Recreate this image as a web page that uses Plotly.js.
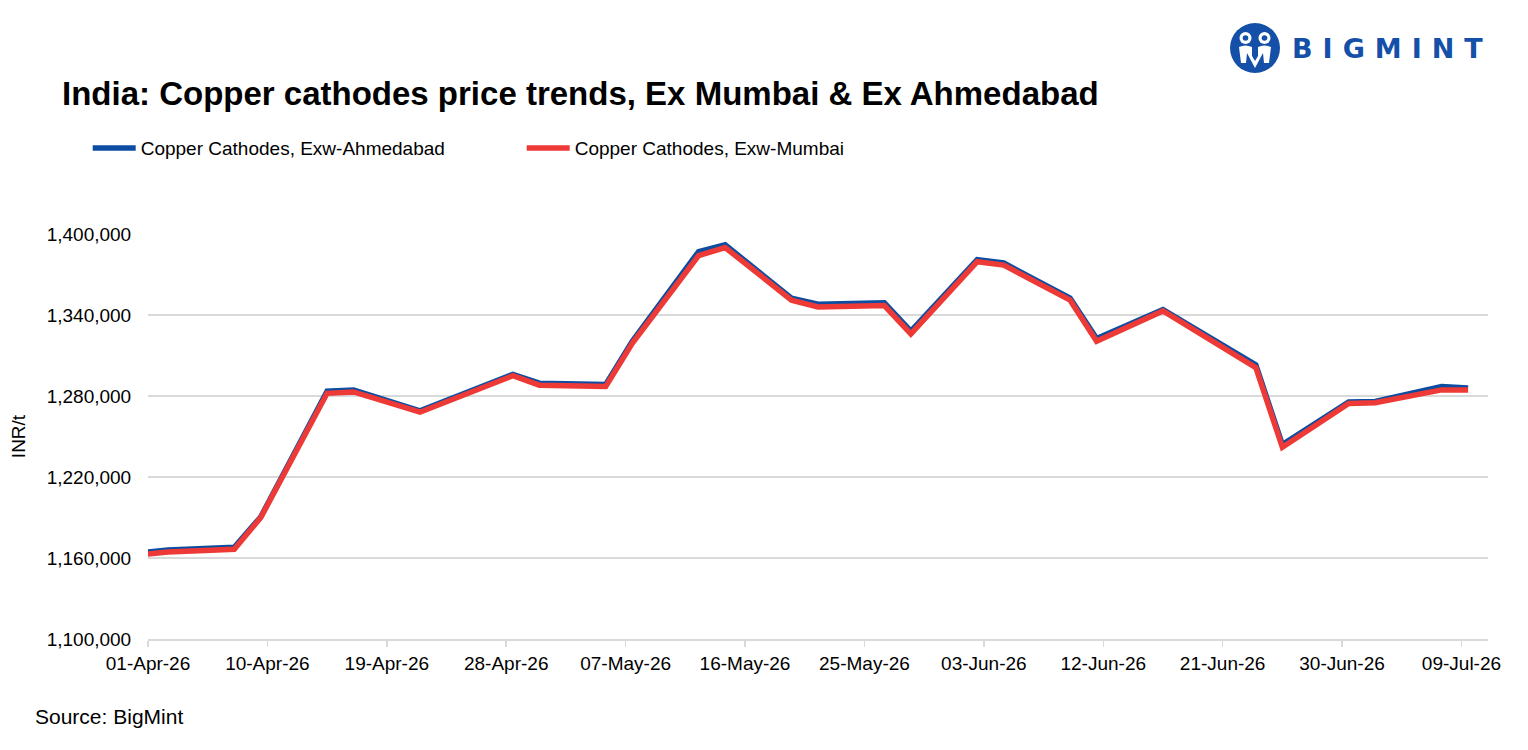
<!DOCTYPE html>
<html>
<head>
<meta charset="utf-8">
<script src="https://cdn.plot.ly/plotly-3.0.1.min.js"></script>
<style>
  html, body { margin: 0; padding: 0; background: #ffffff; }
  #wrap { position: relative; width: 1528px; height: 750px; }
  #chart { width: 1528px; height: 750px; }
  #brand { position: absolute; left: 1230px; top: 23px; height: 50px; display: flex; align-items: center; }
  #brand span { font-family: "DejaVu Sans", sans-serif; font-weight: bold; font-size: 27px;
                letter-spacing: 10px; color: #1450A8; margin-left: 12px; }
</style>
</head>
<body>
<div id="wrap">
  <div id="chart"></div>
  <div id="brand">
    <svg width="50" height="50" viewBox="0 0 50 50">
      <circle cx="25" cy="25" r="25" fill="#1450A8"/>
      <circle cx="15.5" cy="15" r="6" fill="#ffffff"/>
      <circle cx="34.5" cy="15" r="6" fill="#ffffff"/>
      <circle cx="15.5" cy="15" r="2.8" fill="#1450A8"/>
      <circle cx="34.5" cy="15" r="2.8" fill="#1450A8"/>
      <path d="M9 24 Q15.5 21 22 24 L22 33 L25 38 L28 33 L28 24 Q34.5 21 41 24 L39 40 L34 40 L33 30 L25 45 L17 30 L16 40 L11 40 Z" fill="#ffffff"/>
    </svg>
    <span>BIGMINT</span>
  </div>
</div>
<script>
// Price observations (INR per tonne), twice-weekly
const dates = ['2026-03-31','2026-04-02','2026-04-07','2026-04-09','2026-04-14','2026-04-16',
  '2026-04-21','2026-04-28','2026-04-30','2026-05-05','2026-05-07','2026-05-12','2026-05-14',
  '2026-05-19','2026-05-21','2026-05-26','2026-05-28','2026-06-02','2026-06-04','2026-06-09',
  '2026-06-11','2026-06-16','2026-06-23','2026-06-25','2026-06-30','2026-07-02','2026-07-07','2026-07-09'];

const ahmedabad = [1164000, 1166000, 1168000, 1190500, 1283500, 1284500,
  1269000, 1296000, 1289500, 1288500, 1320500, 1387000, 1392000,
  1352500, 1348000, 1349000, 1328000, 1381000, 1378500, 1352500,
  1322500, 1344000, 1303000, 1244000, 1275500, 1276000, 1287000, 1286000];

const mumbai = [1162500, 1164500, 1166500, 1190000, 1282000, 1283000,
  1268000, 1295000, 1288000, 1287000, 1319000, 1384000, 1390000,
  1351000, 1346000, 1347000, 1326000, 1379500, 1377000, 1351000,
  1320500, 1343000, 1301000, 1242000, 1274500, 1275000, 1284500, 1284500];

const seriesNames = ['Copper Cathodes, Exw-Ahmedabad', 'Copper Cathodes, Exw-Mumbai'];

// Axis ticks
const xTickDates = ['2026-04-01','2026-04-10','2026-04-19','2026-04-28','2026-05-07','2026-05-16',
  '2026-05-25','2026-06-03','2026-06-12','2026-06-21','2026-06-30','2026-07-09'];
const xRange = ['2026-04-01', '2026-07-11'];
const yTicks = [1100000, 1160000, 1220000, 1280000, 1340000, 1400000];

const sans = '"Liberation Sans", Arial, sans-serif';
const DAY = 86400000;

const traces = [
  {
    x: dates, y: ahmedabad, name: seriesNames[0], type: 'scatter', mode: 'lines',
    xperiod: DAY, xperiodalignment: 'middle',
    line: { color: '#0C4DA2', width: 5.5 }
  },
  {
    x: dates, y: mumbai, name: seriesNames[1], type: 'scatter', mode: 'lines',
    xperiod: DAY, xperiodalignment: 'middle',
    line: { color: '#EE3A37', width: 5.5 }
  }
];

const layout = {
  width: 1528, height: 750,
  paper_bgcolor: '#ffffff', plot_bgcolor: '#ffffff',
  margin: { l: 148, r: 40, t: 234, b: 111 },
  font: { family: sans, color: '#000000', size: 19 },
  title: {
    text: 'India: Copper cathodes price trends, Ex Mumbai & Ex Ahmedabad',
    font: { family: sans, size: 33, color: '#000000', weight: 'bold' },
    xref: 'container', yref: 'container',
    x: 62 / 1528, xanchor: 'left', y: 1 - 93 / 750, yanchor: 'middle'
  },
  showlegend: true,
  legend: {
    orientation: 'h', x: -0.045, xanchor: 'left', y: 1.212, yanchor: 'middle',
    entrywidth: 376, entrywidthmode: 'pixels', itemwidth: 43,
    font: { family: sans, size: 19, color: '#000000' },
    bgcolor: 'rgba(0,0,0,0)', traceorder: 'normal'
  },
  xaxis: {
    type: 'date', range: xRange, tickvals: xTickDates, tickformat: '%d-%b-%y',
    showgrid: false, zeroline: false,
    showline: true, linecolor: '#d9d9d9', linewidth: 2,
    ticks: 'outside', ticklen: 6, tickcolor: '#d9d9d9', tickwidth: 1.5,
    tickfont: { family: sans, size: 19, color: '#000000' }
  },
  yaxis: {
    range: [1100000, 1400000], tickvals: yTicks, tickformat: ',d',
    showgrid: true, gridcolor: '#d9d9d9', gridwidth: 1.5,
    zeroline: false, showline: false,
    ticks: 'outside', ticklen: 12, tickcolor: 'rgba(0,0,0,0)',
    tickfont: { family: sans, size: 19, color: '#000000' },
    title: { text: 'INR/t', font: { family: sans, size: 19, color: '#000000' }, standoff: 16 }
  },
  annotations: [
    {
      text: 'Source: BigMint', xref: 'paper', yref: 'paper',
      x: (33 - 148) / 1340, xanchor: 'left', y: (639 - 716) / 405, yanchor: 'middle',
      showarrow: false, font: { family: sans, size: 21, color: '#000000' }
    }
  ]
};

Plotly.newPlot('chart', traces, layout, { displayModeBar: false, staticPlot: true });
</script>
</body>
</html>
